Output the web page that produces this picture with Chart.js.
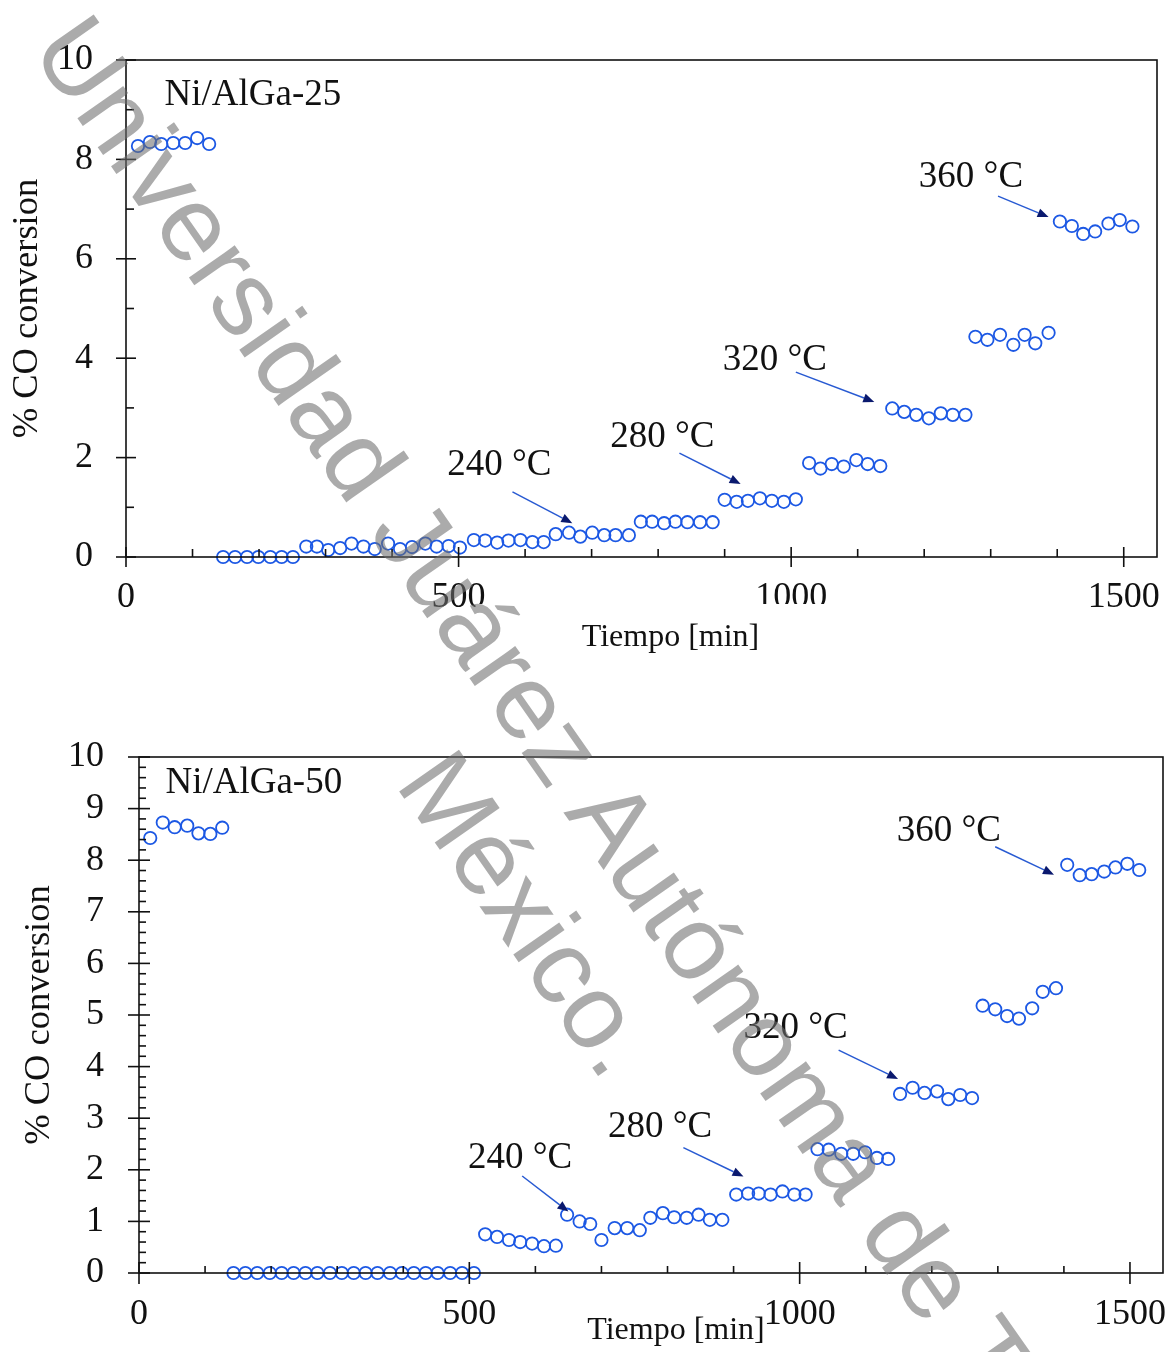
<!DOCTYPE html>
<html>
<head>
<meta charset="utf-8">
<script src="https://cdn.jsdelivr.net/npm/chart.js@4.4.1/dist/chart.umd.min.js"></script>
<style>
  html, body { margin: 0; padding: 0; background: #fff; }
  #page { position: relative; width: 1171px; height: 1352px; overflow: hidden; background: #fff; }
  #page canvas { position: absolute; left: 0; }
  #c25 { top: 0; }
  #c50 { top: 680px; }
  .wm {
    position: absolute;
    font-family: 'Liberation Sans', Arial, sans-serif;
    font-size: 106px;
    line-height: 1;
    color: rgba(110, 110, 110, 0.58);
    white-space: nowrap;
    transform-origin: 0 0;
    transform: rotate(55deg);
    pointer-events: none;
  }
</style>
</head>
<body>
<div id="page">
  <canvas id="c25" width="1171" height="680" style="width:1171px;height:680px"></canvas>
  <canvas id="c50" width="1171" height="672" style="width:1171px;height:672px"></canvas>
  <div class="wm" style="left:103px;top:-2px">Universidad Juárez Autónoma de Tabasco</div>
  <div class="wm" style="left:468px;top:733px">México.</div>
</div>
<script>
// ---- Ni/AlGa-25 : time on stream [min] vs CO conversion [%] ----
const time25 = [
  18, 36, 53, 71, 89, 107, 125,
  146, 164, 182, 199, 217, 234, 251,
  271, 287, 304, 322, 339, 357, 374, 394, 412, 430, 450, 467, 485, 502,
  523, 540, 558, 575, 593, 611, 628,
  646, 666, 683, 701, 719, 736, 756,
  774, 791, 809, 826, 844, 863, 882,
  900, 918, 935, 953, 971, 989, 1007,
  1027, 1044, 1061, 1079, 1098, 1115, 1134,
  1152, 1170, 1188, 1207, 1225, 1243, 1262,
  1277, 1295, 1314, 1334, 1351, 1367, 1387,
  1404, 1422, 1439, 1457, 1477, 1494, 1513
];
const conv25 = [
  8.27, 8.35, 8.31, 8.33, 8.33, 8.43, 8.31,
  0.00, 0.00, 0.00, 0.00, 0.00, 0.00, 0.00,
  0.21, 0.21, 0.14, 0.18, 0.27, 0.21, 0.16, 0.27, 0.16, 0.20, 0.27, 0.21, 0.22, 0.19,
  0.34, 0.33, 0.29, 0.33, 0.34, 0.30, 0.30,
  0.46, 0.49, 0.41, 0.49, 0.44, 0.44, 0.44,
  0.71, 0.71, 0.68, 0.71, 0.70, 0.70, 0.70,
  1.15, 1.11, 1.13, 1.18, 1.13, 1.11, 1.16,
  1.89, 1.78, 1.87, 1.82, 1.95, 1.87, 1.83,
  2.99, 2.92, 2.86, 2.79, 2.89, 2.86, 2.86,
  4.43, 4.37, 4.47, 4.27, 4.47, 4.30, 4.51,
  6.75, 6.66, 6.50, 6.55, 6.71, 6.78, 6.65
];

// ---- Ni/AlGa-50 ----
const time50 = [
  17, 36, 54, 73, 90, 108, 126,
  143, 161, 179, 198, 216, 234, 252, 270, 289, 307, 325, 343, 361, 380, 398, 416, 434, 452, 471, 489, 507,
  524, 542, 560, 577, 595, 613, 631,
  648, 667, 683, 700, 720, 739, 758,
  774, 793, 810, 829, 847, 864, 883,
  904, 922, 938, 956, 974, 992, 1009,
  1027, 1044, 1063, 1081, 1099, 1117, 1134,
  1152, 1171, 1189, 1208, 1225, 1243, 1261,
  1277, 1296, 1314, 1332, 1352, 1368, 1388,
  1405, 1424, 1442, 1461, 1478, 1496, 1514
];
const conv50 = [
  8.43, 8.73, 8.64, 8.67, 8.52, 8.51, 8.63,
  0, 0, 0, 0, 0, 0, 0, 0, 0, 0, 0, 0, 0, 0, 0, 0, 0, 0, 0, 0, 0,
  0.75, 0.70, 0.64, 0.60, 0.57, 0.52, 0.53,
  1.13, 1.00, 0.95, 0.64, 0.87, 0.87, 0.83,
  1.07, 1.16, 1.08, 1.07, 1.13, 1.03, 1.03,
  1.52, 1.54, 1.54, 1.52, 1.58, 1.52, 1.52,
  2.40, 2.39, 2.31, 2.31, 2.34, 2.23, 2.21,
  3.47, 3.59, 3.49, 3.52, 3.37, 3.45, 3.39,
  5.18, 5.11, 4.98, 4.93, 5.13, 5.45, 5.52,
  7.91, 7.71, 7.73, 7.78, 7.86, 7.93, 7.81
];

// ---- tick labels ----
const xTickValues = [0, 500, 1000, 1500];
const yTicks25 = [0, 2, 4, 6, 8, 10];
const yTicks50 = [0, 1, 2, 3, 4, 5, 6, 7, 8, 9, 10];

// ---- temperature labels ----
const tempLabels = ['240 °C', '280 °C', '320 °C', '360 °C'];

const SERIF = "'Liberation Serif', 'Times New Roman', serif";
const MARKER = 'rgb(28, 88, 228)';

// frame, tick marks, temperature call-outs and x title
const framePlugin = {
  id: 'frame',
  afterDraw(chart, args, o) {
    const { ctx, chartArea: a } = chart;
    const x = chart.scales.x, y = chart.scales.y;
    ctx.save();
    ctx.strokeStyle = '#111';
    ctx.lineWidth = 1.6;
    ctx.strokeRect(a.left, a.top, a.right - a.left, a.bottom - a.top);

    const isMult = (v, m) => Math.abs(v / m - Math.round(v / m)) < 1e-6;
    // x ticks
    for (let i = 0; i * o.xMinor <= x.max + 1e-6; i++) {
      const v = i * o.xMinor;
      const px = x.getPixelForValue(v);
      const major = isMult(v, o.xMajor);
      ctx.beginPath();
      ctx.moveTo(px, a.bottom + (major ? o.tickOut : 0));
      ctx.lineTo(px, a.bottom - (major ? o.tickIn : o.minorIn));
      ctx.stroke();
    }
    // y ticks
    for (let i = 0; i * o.yMinor <= y.max + 1e-6; i++) {
      const v = i * o.yMinor;
      const py = y.getPixelForValue(v);
      const major = isMult(v, o.yMajor);
      ctx.beginPath();
      ctx.moveTo(a.left - (major ? o.tickOut : 0), py);
      ctx.lineTo(a.left + (major ? o.tickIn : o.minorIn), py);
      ctx.stroke();
    }

    // sample name
    ctx.fillStyle = '#111';
    ctx.font = `${o.nameSize}px ${SERIF}`;
    ctx.textAlign = 'left';
    ctx.textBaseline = 'middle';
    ctx.fillText(o.name.text, x.getPixelForValue(o.name.x), y.getPixelForValue(o.name.y));

    // temperature call-outs with arrows
    o.callouts.forEach((c, k) => {
      ctx.font = `${o.labelSize}px ${SERIF}`;
      ctx.fillStyle = '#111';
      ctx.fillText(tempLabels[k], x.getPixelForValue(c.tx), y.getPixelForValue(c.ty));
      const x1 = x.getPixelForValue(c.x1), y1 = y.getPixelForValue(c.y1);
      const x2 = x.getPixelForValue(c.x2), y2 = y.getPixelForValue(c.y2);
      const ang = Math.atan2(y2 - y1, x2 - x1);
      const hl = 11, hw = 4.5;
      const bx = x2 - hl * Math.cos(ang), by = y2 - hl * Math.sin(ang);
      ctx.strokeStyle = 'rgb(40, 90, 210)';
      ctx.lineWidth = 1.5;
      ctx.beginPath();
      ctx.moveTo(x1, y1);
      ctx.lineTo(bx, by);
      ctx.stroke();
      ctx.fillStyle = 'rgb(10, 25, 110)';
      ctx.beginPath();
      ctx.moveTo(x2, y2);
      ctx.lineTo(bx - hw * Math.sin(ang), by + hw * Math.cos(ang));
      ctx.lineTo(bx + hw * Math.sin(ang), by - hw * Math.cos(ang));
      ctx.closePath();
      ctx.fill();
    });

    // x-axis title (in a white text box)
    const t = o.xTitle;
    const tx = (a.left + a.right) / 2 + t.dx;
    if (t.box) {
      ctx.fillStyle = '#fff';
      ctx.fillRect(tx - t.box.w / 2, t.box.top, t.box.w, t.box.h);
    }
    ctx.fillStyle = '#111';
    ctx.font = `${t.size}px ${SERIF}`;
    ctx.textAlign = 'center';
    ctx.textBaseline = 'middle';
    ctx.fillText(t.text, tx, t.y);
    ctx.restore();
  }
};

function makeChart(id, xs, ys, cfg) {
  const points = xs.map((t, i) => ({ x: t, y: ys[i] }));
  return new Chart(document.getElementById(id), {
    type: 'scatter',
    data: {
      datasets: [{
        data: points,
        pointStyle: 'circle',
        pointRadius: 6.2,
        pointHoverRadius: 6.2,
        pointBorderWidth: 1.8,
        pointBackgroundColor: 'rgba(0,0,0,0)',
        pointBorderColor: MARKER,
        showLine: false,
        clip: false
      }]
    },
    options: {
      responsive: false,
      animation: false,
      events: [],
      layout: { padding: { left: 0, top: cfg.top, right: cfg.right, bottom: 0 } },
      plugins: {
        legend: { display: false },
        tooltip: { enabled: false },
        frame: cfg.frame
      },
      scales: {
        x: {
          type: 'linear',
          min: 0, max: 1550,
          grid: { display: false, drawTicks: false },
          border: { display: false },
          afterBuildTicks: s => { s.ticks = xTickValues.map(v => ({ value: v })); },
          afterFit: s => {
            s.height = cfg.xAxisH;
            s.paddingLeft = 0; s.paddingRight = 0;
          },
          ticks: {
            font: { family: SERIF, size: 36 },
            color: '#111',
            padding: cfg.xPad,
            maxRotation: 0,
            autoSkip: false,
            callback: v => String(v)
          }
        },
        y: {
          type: 'linear',
          min: 0, max: 10,
          grid: { display: false, drawTicks: false },
          border: { display: false },
          afterBuildTicks: s => { s.ticks = cfg.yTicks.map(v => ({ value: v })); },
          afterFit: s => {
            s.width = cfg.yAxisW;
            s.paddingTop = 0; s.paddingBottom = 0;
          },
          ticks: {
            font: { family: SERIF, size: 36 },
            color: '#111',
            padding: cfg.yPad,
            autoSkip: false,
            callback: v => String(v)
          },
          title: {
            display: true,
            text: '% CO conversion',
            font: { family: SERIF, size: 36.5 },
            color: '#111',
            padding: { top: cfg.yTitlePad, bottom: 0 }
          }
        }
      }
    },
    plugins: [framePlugin]
  });
}

makeChart('c25', time25, conv25, {
  top: 60, right: 14, xAxisH: 680 - 557, yAxisW: 126,
  xPad: 19, yPad: 33, yTitlePad: 6, yTicks: yTicks25,
  frame: {
    xMinor: 100, xMajor: 500, yMinor: 1, yMajor: 2,
    tickOut: 10, tickIn: 10, minorIn: 8,
    name: { text: 'Ni/AlGa-25', x: 58, y: 9.3 },
    nameSize: 37, labelSize: 37,
    callouts: [
      { tx: 483, ty: 1.85, x1: 581, y1: 1.31, x2: 671, y2: 0.68 },
      { tx: 728, ty: 2.41, x1: 832, y1: 2.09, x2: 924, y2: 1.47 },
      { tx: 897, ty: 3.96, x1: 1007, y1: 3.72, x2: 1125, y2: 3.12 },
      { tx: 1192, ty: 7.65, x1: 1311, y1: 7.26, x2: 1387, y2: 6.84 }
    ],
    xTitle: { text: 'Tiempo [min]', size: 32, dx: 29, y: 638, box: { top: 604, h: 62, w: 390 } }
  }
});

makeChart('c50', time50, conv50, {
  top: 77, right: 8, xAxisH: 672 - 593, yAxisW: 139,
  xPad: 20, yPad: 35, yTitlePad: 18, yTicks: yTicks50,
  frame: {
    xMinor: 100, xMajor: 500, yMinor: 0.2, yMajor: 1,
    tickOut: 11, tickIn: 11, minorIn: 7,
    name: { text: 'Ni/AlGa-50', x: 40, y: 9.5 },
    nameSize: 37, labelSize: 37,
    callouts: [
      { tx: 498, ty: 2.23, x1: 580, y1: 1.88, x2: 650, y2: 1.19 },
      { tx: 710, ty: 2.83, x1: 824, y1: 2.43, x2: 915, y2: 1.87 },
      { tx: 915, ty: 4.75, x1: 1059, y1: 4.32, x2: 1149, y2: 3.76 },
      { tx: 1147, ty: 8.57, x1: 1296, y1: 8.26, x2: 1385, y2: 7.72 }
    ],
    xTitle: { text: 'Tiempo [min]', size: 32, dx: 25, y: 1331 - 680 }
  }
});
</script>
</body>
</html>
